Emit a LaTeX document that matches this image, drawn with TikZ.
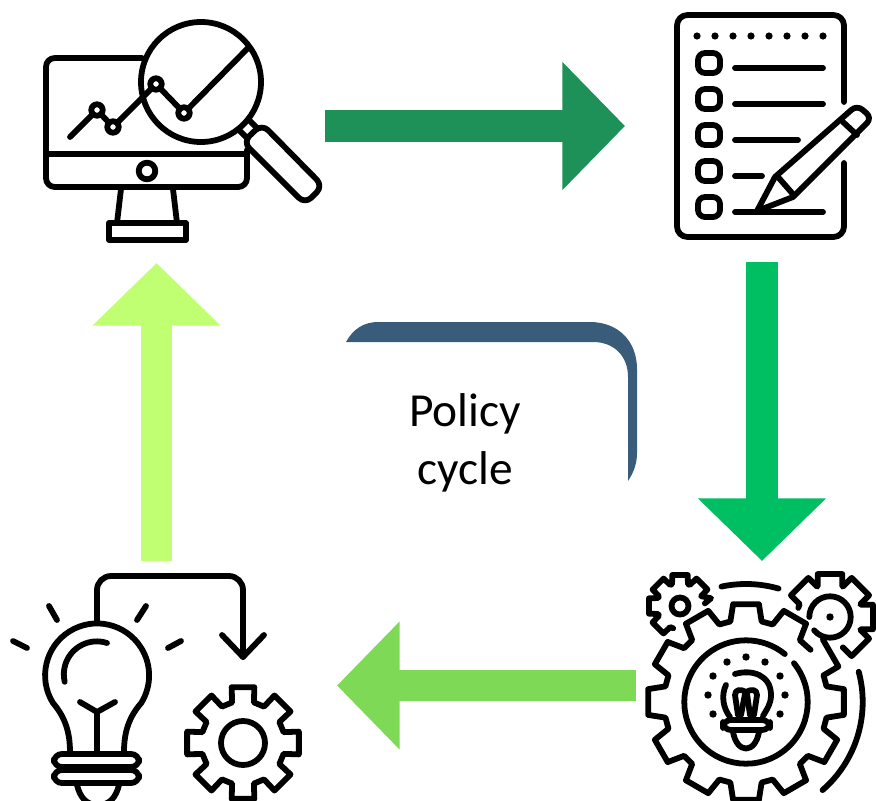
\documentclass[tikz,border=0pt]{standalone}
\usepackage{fontspec}
\setmainfont{Carlito}
\usetikzlibrary{arrows.meta}

\definecolor{darkgreen}{HTML}{1E9159}
\definecolor{midgreen}{HTML}{00BF63}
\definecolor{softgreen}{HTML}{7ED957}
\definecolor{limegreen}{HTML}{C1FF72}
\definecolor{policyblue}{HTML}{385C7A}

\tikzset{
	icon/.style={line width=3.3pt, line cap=round, line join=round},
	blockarrow/.style={line width=17.8pt, -{Triangle[length=35.7pt, width=70.9pt]}},
	policylabel/.style={align=center, font=\fontsize{27}{33}\selectfont}
}

% one stretch of gear teeth: angles, root half angle, root radius, outer half angle, outer radius
\newcommand{\gearteeth}[5]{\foreach \a in {#1} { -- (\a-#2:#3) -- (\a-#4:#5) -- (\a+#4:#5) -- (\a+#2:#3)}}

\begin{document}
\begin{tikzpicture}[x=0.02cm, y=-0.02cm]
		\useasboundingbox (0, 0) rectangle (876, 801);
		%\draw[lightgray, step=100] (0, 0) grid (876, 801);

		% arrows
		\coordinate (monitorout) at (325, 126);
		\coordinate (listin) at (625, 126);
		\coordinate (listout) at (762, 262);
		\coordinate (gearin) at (762, 561);
		\coordinate (gearout) at (636, 685.5);
		\coordinate (bulbin) at (337, 685.5);
		\coordinate (bulbout) at (156.5, 561);
		\coordinate (monitorin) at (156.5, 263);
		\draw[blockarrow, darkgreen] (monitorout) -- (listin);
		\draw[blockarrow, midgreen] (listout) -- (gearin);
		\draw[blockarrow, softgreen] (gearout) -- (bulbin);
		\draw[blockarrow, limegreen] (bulbout) -- (monitorin);

		% policy cycle
		\fill[policyblue] (346, 342) .. controls (353, 329) and (364, 322) .. (378, 322) -- (590, 322)
			.. controls (618, 322) and (637, 341) .. (637, 369) -- (637, 453)
			.. controls (637, 463) and (634, 472) .. (628, 481) -- (628, 377)
			.. controls (628, 356) and (614, 342) .. (593, 342) -- cycle;
		\node[policylabel] (policy) at (465, 443) {Policy\\cycle};

		% monitor
		\draw[icon, rounded corners=5pt] (142, 58) -- (46, 58) -- (46, 187) -- (247, 187) -- (247, 150);
		\draw[icon] (46, 154) -- (245, 154);
		\draw[icon] (147, 171) circle (8.3);
		\draw[icon] (121, 189) -- (117, 223);
		\draw[icon] (173, 189) -- (177, 223);
		\draw[icon] (109, 223) rectangle (186, 240);

		% magnifier
		\draw[icon, fill=white] (238, 129) -- (248, 119) -- (258, 129) -- (248, 139) -- cycle;
		\draw[icon, fill=white, rounded corners=5pt] (243, 142) -- (262, 124) -- (323, 186) -- (305, 204) -- cycle;
		\fill[white] (201, 82) circle (60);
		\draw[icon] (70, 137) -- (97, 110) -- (113, 127) -- (156, 84) -- (184, 113) -- (248, 48);
		\draw[icon, fill=white] (97, 110) circle (5.7);
		\draw[icon, fill=white] (113, 127) circle (5.7);
		\draw[icon, fill=white] (156, 84) circle (5.7);
		\draw[icon, fill=white] (184, 113) circle (5.7);
		\draw[icon] (201, 82) circle (60);

		% checklist
		\draw[icon, rounded corners=6pt] (844, 102) -- (844, 15) -- (677, 15) -- (677, 237) -- (844, 237) -- (844, 163);
		\foreach \x in {697, 715, 733, 751, 769, 787, 805, 823}
			\fill (\x, 36) circle (3.6);
		\foreach \y in {63, 99, 135, 171, 207}
			\draw[icon, rounded corners=4pt] (698, \y-10) rectangle (720, \y+10);
		\draw[icon] (735, 68) -- (823, 68);
		\draw[icon] (735, 104) -- (823, 104);
		\draw[icon] (735, 140) -- (798, 140);
		\draw[icon] (735, 176) -- (762, 176);
		\draw[icon] (735, 212) -- (823, 212);
		\draw[icon] (757, 211) -- (775, 177) [rounded corners=4pt] -- (857, 105) -- (872, 118) [sharp corners] -- (793, 197) -- cycle;
		\draw[icon] (778, 177) -- (792, 193);
		\draw[icon] (843, 122) -- (857, 135);

		% gears and bulb, bottom right
		\begin{scope}[shift={(746, 702)}]
			\draw[icon] (-39:99) -- (-21:99) -- (-19:82) \gearteeth{0, 30, ..., 300}{11}{82}{7.5}{98.7} -- (321:83);
			\draw[icon] (-39:61.7) arc[start angle=-39, end angle=309, radius=61.7];
			\draw[icon] (-15:116.7) arc[start angle=-15, end angle=49, radius=116.7];
			\draw[icon] (-102:118) arc[start angle=-102, end angle=-74, radius=118];
		\end{scope}
		\begin{scope}[shift={(680, 606)}]
			\draw[icon] (107:23.3) \gearteeth{135, 180, 225, 270, 315}{20}{23.3}{14}{32} -- (346:32) -- (354:25);
			\draw[icon] (0, 0) circle (8.5);
		\end{scope}
		\begin{scope}[shift={(830, 617)}]
			\draw[icon] (196:33) \gearteeth{225, 270, 315, 360, 405}{22}{33}{16}{44.7} -- (427:33.5);
			\draw[icon] (180:20.7) arc[start angle=180, end angle=500, radius=20.7];
			\fill (0, 0) circle (3.7);
		\end{scope}
		\foreach \x/\y in {746/657, 727/662, 765/662, 713/676, 780/676, 708/695, 785/695, 713/714, 780/714}
			\fill (\x, \y) circle (3.7);
		\draw[icon] (735, 674) .. controls (752, 669) and (771, 675) .. (771, 695) .. controls (771, 704) and (767, 709) .. (763, 716);
		\draw[icon] (726, 685) .. controls (721, 695) and (723, 708) .. (730, 717);
		\draw[icon] (738, 715) -- (735, 695) .. controls (735, 689) and (741, 689) .. (746, 692) .. controls (751, 689) and (757, 689) .. (757, 695) -- (754, 715);
		\draw[icon] (745, 694) -- (741, 715);
		\draw[icon] (747, 694) -- (750, 715);
		\draw[icon, rounded corners=4.5pt] (723, 720) rectangle (770, 730);
		\draw[icon] (733, 732) .. controls (737, 754) and (755, 754) .. (759, 732);

		% bulb and gear, bottom left
		\draw[icon] (70, 752) .. controls (70, 732) and (65, 717) .. (53, 703) arc[start angle=148, end angle=392, radius=52] .. controls (129, 717) and (124, 732) .. (124, 752);
		\draw[icon] (107, 643) arc[start angle=-72, end angle=-193, radius=33];
		\draw[icon] (80, 702) -- (97, 712) -- (115, 702);
		\draw[icon] (97, 712) -- (97, 752);
		\draw[icon, rounded corners=4.5pt] (54, 754) rectangle (139, 767);
		\draw[icon, rounded corners=4.5pt] (54, 770) rectangle (139, 783);
		\draw[icon] (77, 785) .. controls (80, 797) and (86, 805) .. (98, 805) .. controls (110, 805) and (116, 797) .. (119, 785);
		\draw[icon] (49, 606) -- (57, 620);
		\draw[icon] (146, 606) -- (137, 620);
		\draw[icon] (13, 641) -- (27, 648);
		\draw[icon] (168, 648) -- (181, 641);
		\draw[icon, rounded corners=8pt] (97, 623) -- (97, 576) -- (243, 576) -- (243, 657);
		\draw[icon] (222, 635) -- (243, 657) -- (264, 635);
		\begin{scope}[shift={(243, 743)}]
			\draw[icon] (15:42) \gearteeth{45, 90, ..., 360}{15}{42}{11.5}{57} -- cycle;
			\draw[icon] (0, 0) circle (22);
		\end{scope}
	\end{tikzpicture}
\end{document}
